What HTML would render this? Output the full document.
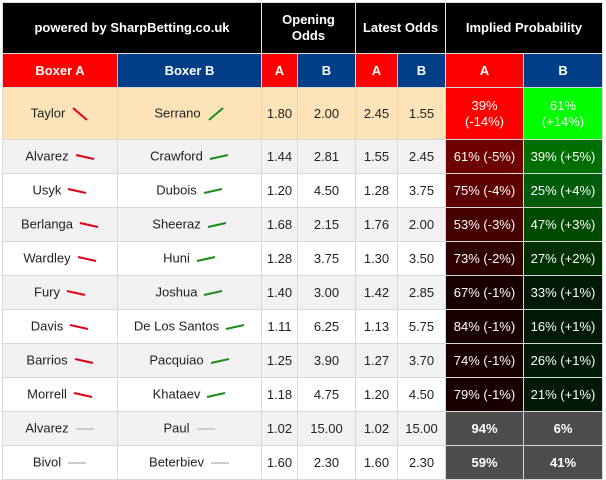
<!DOCTYPE html>
<html><head><meta charset="utf-8"><style>
body{margin:0;width:606px;height:478px;background:#fff;overflow:hidden;font-family:"Liberation Sans Narrow","Liberation Sans",sans-serif;}
table{position:absolute;left:2px;top:2px;border-collapse:collapse;table-layout:fixed;width:600px;font-size:13px;color:#222;}
td,th{border:1px solid #d8d8d8;text-align:center;padding:0;overflow:hidden;white-space:nowrap;}
th{color:#fff;font-weight:bold;font-size:13px;}
.top th{background:#000;height:50px;border-color:#e0e0e0;line-height:16px;white-space:normal;}
.sub th{height:33px;}
.r{background:#f00}.b{background:#003f87}
tr.d td{height:33px;}
tr.g td{background:#f2f2f2}
tr.w td{background:#fff}
tr.t td{background:#fde3b8;height:51px;}
td.p{color:#fff;}
svg{vertical-align:middle;margin-left:6px}
</style></head><body>
<table>
<colgroup><col style="width:115px"><col style="width:144px"><col style="width:36px"><col style="width:58px"><col style="width:42px"><col style="width:48px"><col style="width:78px"><col style="width:79px"></colgroup>
<tr class="top">
<th colspan="2">powered by SharpBetting.co.uk</th>
<th colspan="2">Opening<br>Odds</th>
<th colspan="2">Latest Odds</th>
<th colspan="2">Implied Probability</th></tr>
<tr class="sub">
<th class="r">Boxer A</th><th class="b">Boxer B</th>
<th class="r">A</th><th class="b">B</th>
<th class="r">A</th><th class="b">B</th>
<th class="r">A</th><th class="b">B</th></tr>
<tbody id="body"></tbody>
</table>
<script>
const boxersA=["Taylor","Alvarez","Usyk","Berlanga","Wardley","Fury","Davis","Barrios","Morrell","Alvarez","Bivol"];
const boxersB=["Serrano","Crawford","Dubois","Sheeraz","Huni","Joshua","De Los Santos","Pacquiao","Khataev","Paul","Beterbiev"];
const openA=["1.80","1.44","1.20","1.68","1.28","1.40","1.11","1.25","1.18","1.02","1.60"];
const openB=["2.00","2.81","4.50","2.15","3.75","3.00","6.25","3.90","4.75","15.00","2.30"];
const lateA=["2.45","1.55","1.28","1.76","1.30","1.42","1.13","1.27","1.20","1.02","1.60"];
const lateB=["1.55","2.45","3.75","2.00","3.50","2.85","5.75","3.70","4.50","15.00","2.30"];
const probA=[39,61,75,53,73,67,84,74,79,94,59];
const probB=[61,39,25,47,27,33,16,26,21,6,41];
const change=[14,5,4,3,2,1,1,1,1,0,0];
const redBg={14:"#ff0000",5:"#6e0000",4:"#5c0000",3:"#470000",2:"#2e0000",1:"#190000",0:"#4d4d4d"};
const greenBg={14:"#00ff00",5:"#006e00",4:"#005c0a",3:"#004a00",2:"#003000",1:"#001a05",0:"#4d4d4d"};
function trend(dir,big){
  const c=dir<0?"#e0001b":dir>0?"#1a8c1a":"#cccccc";
  if(big){return '<svg width="18" height="18"><line x1="2" y1="'+(dir<0?3:15)+'" x2="16" y2="'+(dir<0?15:3)+'" stroke="'+c+'" stroke-width="2"/></svg>';}
  const y1=dir<0?7:dir>0?11:9, y2=dir<0?11:dir>0?7:9;
  return '<svg width="20" height="18"><line x1="1" y1="'+y1+'" x2="19" y2="'+y2+'" stroke="'+c+'" stroke-width="2"/></svg>';
}
const body=document.getElementById('body');
for(let i=0;i<boxersA.length;i++){
  const tr=document.createElement('tr');
  
  
  tr.className=i===0?'t':(i%2===1?'g':'w');
  if(i>0)tr.className+=' d';
  const dir=change[i]>0?1:0;
  const big=i===0;
  const pa=change[i]>0?(big?probA[i]+'%<br>(-'+change[i]+'%)':probA[i]+'% (-'+change[i]+'%)'):'<b>'+probA[i]+'%</b>';
  const pb=change[i]>0?(big?probB[i]+'%<br>(+'+change[i]+'%)':probB[i]+'% (+'+change[i]+'%)'):'<b>'+probB[i]+'%</b>';
  const cells=[boxersA[i]+trend(-dir,big),boxersB[i]+trend(dir,big),openA[i],openB[i],lateA[i],lateB[i],pa,pb];
  const names=['boxer-a','boxer-b','opening-odds-a','opening-odds-b','latest-odds-a','latest-odds-b','implied-prob-a','implied-prob-b'];
  cells.forEach((h,j)=>{
    const td=document.createElement('td');
    
    
    td.innerHTML=h;
    if(j===6){td.className='p';td.style.background=redBg[change[i]];}
    if(j===7){td.className='p';td.style.background=greenBg[change[i]];}
    if(big&&j>=6)td.style.lineHeight='16px';
    tr.appendChild(td);
  });
  body.appendChild(tr);
}
</script>
</body></html>
